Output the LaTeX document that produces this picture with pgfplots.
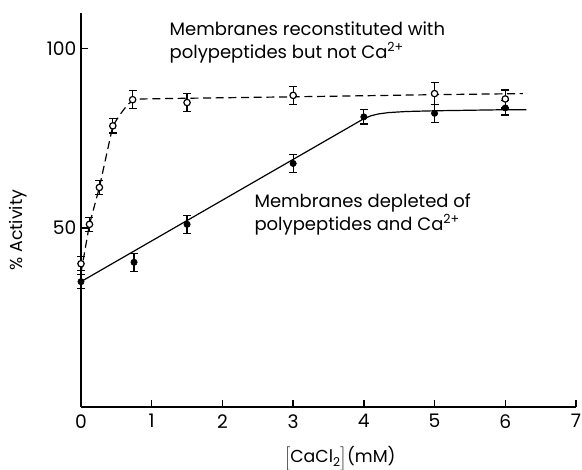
\documentclass[border=0pt]{standalone}
\usepackage{fontspec}
\setmainfont{Poppins}
\usepackage{pgfplots}
\pgfplotsset{compat=1.18}
\begin{document}
\begin{tikzpicture}
\useasboundingbox (0,0) rectangle (436.5pt,351.75pt);
\begin{axis}[
  at={(60.75pt,46.5pt)}, anchor=south west,
  scale only axis, width=371.25pt, height=295.5pt,
  xmin=0, xmax=7, ymin=0, ymax=110,
  axis lines=left, axis line style={line width=1.2pt, -},
  xtick={0,1,...,7}, ytick={50,100},
  tick align=inside, major tick length=5pt,
  tick style={line width=1pt, black},
  /pgf/number format/assume math mode=true,
  tick label style={font=\fontsize{14}{15}\selectfont},
  xticklabel style={yshift=-2pt},
  clip=false,
  error bars/error bar style={line width=0.9pt},
  error bars/error mark options={rotate=90, mark size=3pt, line width=0.9pt},
]
% dashed guide line
\addplot[black, line width=0.9pt, dash pattern=on 6pt off 3.5pt] coordinates {
 (0,37.5) (0.12,51) (0.26,61.3) (0.45,78.5) (0.55,81.6) (0.65,84.2) (0.73,85.6) (0.85,86) (1.5,86.2) (3,86.6) (5,87.2) (6.25,87.5)};
% solid guide line
\addplot[black, line width=0.9pt] coordinates {
 (0,35) (4,80.5) (4.1,81.3) (4.2,81.8) (4.35,82.2) (4.6,82.5) (5,82.7) (6,83) (6.3,83)};
% open circles with error bars
\addplot[black, only marks, mark=*, mark size=2.4pt, mark options={fill=white, line width=0.9pt},
  error bars/.cd, y dir=both, y explicit] table[y error=e] {
x y e
0 40 2
0.12 51 2
0.26 61.3 2
0.45 78.5 2
0.73 85.8 2.5
1.5 85 2.5
3 87 2.5
5 87.5 3
6 86 2.5
};
% filled circles with error bars
\addplot[black, only marks, mark=*, mark size=2.4pt,
  error bars/.cd, y dir=both, y explicit] table[y error=e] {
x y e
0 35 2
0.75 40.4 2.5
1.5 51 2.5
3 68 2.5
4 81 2
5 82 2.5
6 83.5 2
};
\node[anchor=north west, align=left, font=\fontsize{13.5}{17}\selectfont, inner sep=0pt]
  at (axis cs:1.25,107.5) {Membranes reconstituted with\\polypeptides but not Ca\textsuperscript{2+}};
\node[anchor=north west, align=left, font=\fontsize{13.5}{17}\selectfont, inner sep=0pt]
  at (axis cs:2.45,59.5) {Membranes depleted of\\polypeptides and Ca\textsuperscript{2+}};
\node[rotate=90, font=\fontsize{13}{14}\selectfont] at (axis cs:-0.89,49.4) {\% Activity};
\node[font=\fontsize{13}{14}\selectfont, inner sep=1pt] at (axis cs:3.66,-14.4) {$\Big[$CaCl\textsubscript{2}$\Big]$(mM)};
\end{axis}
\end{tikzpicture}
\end{document}
